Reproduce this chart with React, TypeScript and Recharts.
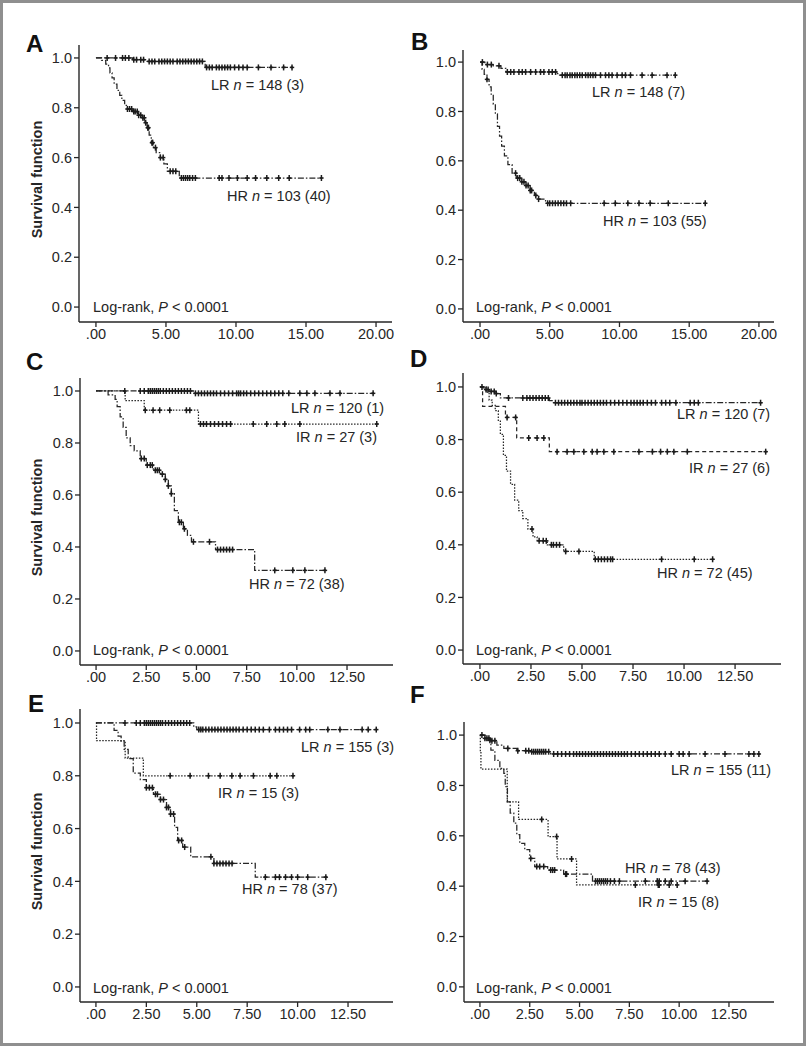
import React from "react";
import { ComposedChart, Line, Scatter, XAxis, YAxis } from "recharts";

// Kaplan-Meier step points [time, survival] and censoring times
const aLrSteps: [number, number][] = [[0, 1], [2.6, 0.993], [3.6, 0.986], [7.8, 0.962], [14.0, 0.962]];
const aLrCensor = [0.8, 1.4, 1.9, 2.1, 2.35, 2.7, 2.9, 3.2, 3.4, 3.8, 4.0, 4.2, 4.5, 4.7, 4.9, 5.1, 5.3, 5.5, 5.8, 6.0, 6.2, 6.4, 6.6, 6.8, 7.0, 7.2, 7.4, 7.6, 7.9, 8.1, 8.3, 8.6, 8.8, 9.0, 9.2, 9.4, 9.6, 9.9, 10.2, 10.5, 10.8, 11.6, 12.5, 13.4, 14.0];
const aHrSteps: [number, number][] = [[0, 1], [0.4, 0.99], [0.7, 0.975], [0.9, 0.96], [1.0, 0.94], [1.15, 0.92], [1.3, 0.895], [1.5, 0.87], [1.7, 0.85], [1.85, 0.83], [2.05, 0.81], [2.25, 0.795], [2.6, 0.785], [3.0, 0.77], [3.3, 0.76], [3.5, 0.74], [3.65, 0.72], [3.8, 0.69], [3.95, 0.66], [4.1, 0.64], [4.3, 0.62], [4.6, 0.6], [4.85, 0.575], [5.1, 0.545], [5.95, 0.518], [16.1, 0.518]];
const aHrCensor = [2.25, 2.4, 2.55, 2.7, 2.8, 2.95, 3.05, 3.2, 3.35, 3.45, 3.55, 3.7, 3.75, 4.0, 4.05, 4.25, 4.6, 4.8, 5.3, 5.5, 5.7, 6.1, 6.25, 6.4, 6.55, 6.7, 6.9, 7.1, 8.8, 9.0, 9.5, 10.1, 10.8, 11.4, 12.2, 13.05, 13.8, 16.1];

const bLrSteps: [number, number][] = [[0, 1], [0.35, 0.99], [0.95, 0.985], [1.5, 0.975], [1.85, 0.96], [5.5, 0.953], [5.65, 0.947], [14.0, 0.947]];
const bLrCensor = [0.17, 0.53, 0.81, 1.36, 1.96, 2.2, 2.43, 2.79, 3.03, 3.27, 3.63, 3.99, 4.34, 4.58, 4.94, 5.18, 5.42, 5.9, 6.1, 6.25, 6.45, 6.61, 6.8, 6.97, 7.15, 7.33, 7.57, 7.75, 7.92, 8.1, 8.28, 8.64, 9.0, 9.24, 9.47, 9.83, 10.19, 10.43, 10.79, 11.62, 12.34, 13.41, 14.0];
const bHrSteps: [number, number][] = [[0, 1], [0.15, 0.97], [0.3, 0.95], [0.5, 0.93], [0.65, 0.9], [0.8, 0.87], [0.95, 0.83], [1.1, 0.79], [1.25, 0.74], [1.4, 0.7], [1.55, 0.66], [1.75, 0.62], [2.0, 0.585], [2.3, 0.55], [2.6, 0.53], [3.0, 0.515], [3.3, 0.5], [3.6, 0.48], [3.9, 0.46], [4.2, 0.445], [4.7, 0.428], [16.15, 0.428]];
const bHrCensor = [0.5, 2.55, 2.7, 2.85, 3.0, 3.15, 3.3, 3.45, 3.6, 3.7, 4.0, 4.2, 4.85, 5.0, 5.2, 5.4, 5.6, 5.8, 6.0, 6.2, 6.5, 8.9, 9.7, 10.6, 11.4, 12.2, 13.5, 16.15];

const cLrSteps: [number, number][] = [[0, 1], [4.85, 0.991], [13.8, 0.991]];
const cLrCensor = [1.43, 2.2, 2.4, 2.6, 2.7, 2.8, 2.9, 3.0, 3.1, 3.2, 3.35, 3.5, 3.65, 3.8, 3.95, 4.1, 4.25, 4.4, 4.55, 4.7, 4.95, 5.1, 5.25, 5.4, 5.55, 5.7, 5.85, 6.0, 6.2, 6.4, 6.6, 6.8, 7.0, 7.1, 7.2, 7.35, 7.5, 7.7, 7.9, 8.1, 8.3, 8.5, 8.7, 8.9, 9.1, 9.3, 9.6, 10.15, 10.5, 10.9, 11.65, 12.15, 13.8];
const cIrSteps: [number, number][] = [[0, 1], [1.45, 0.963], [2.4, 0.926], [5.1, 0.873], [14.0, 0.873]];
const cIrCensor = [2.45, 2.84, 3.17, 3.67, 4.5, 4.67, 5.2, 5.35, 5.5, 5.7, 5.9, 6.1, 6.3, 6.5, 6.7, 7.83, 8.5, 9.0, 9.4, 10.15, 13.98];
const cHrSteps: [number, number][] = [[0, 1], [0.6, 0.985], [0.95, 0.968], [1.05, 0.94], [1.2, 0.9], [1.35, 0.86], [1.5, 0.82], [1.7, 0.79], [1.9, 0.77], [2.2, 0.74], [2.5, 0.715], [2.85, 0.695], [3.2, 0.68], [3.45, 0.66], [3.6, 0.635], [3.75, 0.605], [3.9, 0.54], [4.1, 0.495], [4.35, 0.47], [4.55, 0.445], [4.75, 0.42], [5.95, 0.39], [7.9, 0.31], [11.4, 0.31]];
const cHrCensor = [2.25, 2.4, 2.55, 2.7, 2.8, 2.95, 3.05, 3.15, 3.3, 3.45, 3.6, 3.75, 4.15, 4.25, 4.4, 4.85, 5.65, 6.05, 6.2, 6.35, 6.5, 6.65, 6.8, 8.9, 9.8, 10.4, 11.4];

const dLrSteps: [number, number][] = [[0, 1], [0.2, 0.99], [0.45, 0.983], [0.75, 0.975], [1.0, 0.958], [3.4, 0.948], [3.6, 0.94], [13.75, 0.94]];
const dLrCensor = [0.1, 0.3, 0.4, 0.55, 0.7, 0.8, 1.4, 2.1, 2.3, 2.45, 2.6, 2.75, 2.9, 3.05, 3.2, 3.35, 3.7, 3.85, 4.0, 4.15, 4.3, 4.45, 4.6, 4.75, 4.9, 5.0, 5.15, 5.3, 5.45, 5.6, 5.75, 5.9, 6.05, 6.2, 6.4, 6.6, 6.8, 7.0, 7.2, 7.4, 7.55, 7.7, 7.85, 8.0, 8.2, 8.4, 8.6, 8.9, 9.1, 9.3, 9.6, 10.3, 10.5, 10.7, 13.75];
const dIrSteps: [number, number][] = [[0, 1], [0.13, 0.926], [1.25, 0.884], [1.8, 0.806], [3.4, 0.754], [14.0, 0.754]];
const dIrCensor = [1.33, 1.75, 2.39, 2.8, 3.13, 3.78, 4.27, 4.6, 5.09, 5.5, 5.74, 6.07, 6.56, 7.79, 8.45, 8.85, 9.18, 9.5, 10.16, 14.0];
const dHrSteps: [number, number][] = [[0, 1], [0.3, 0.98], [0.45, 0.95], [0.6, 0.93], [0.75, 0.91], [0.9, 0.87], [1.0, 0.82], [1.15, 0.74], [1.3, 0.68], [1.5, 0.63], [1.7, 0.57], [1.9, 0.53], [2.1, 0.5], [2.35, 0.46], [2.6, 0.43], [2.8, 0.415], [3.3, 0.4], [4.1, 0.375], [5.6, 0.345], [11.4, 0.345]];
const dHrCensor = [2.55, 2.9, 3.1, 3.25, 3.5, 3.6, 3.75, 3.9, 4.2, 4.85, 5.65, 5.8, 5.95, 6.1, 6.25, 6.4, 6.5, 8.9, 10.5, 11.4];

const eLrSteps: [number, number][] = [[0, 1], [4.85, 0.985], [5.0, 0.975], [13.95, 0.975]];
const eLrCensor = [1.44, 2.0, 2.2, 2.4, 2.5, 2.6, 2.7, 2.8, 2.9, 3.0, 3.1, 3.2, 3.3, 3.45, 3.6, 3.75, 3.9, 4.05, 4.2, 4.35, 4.5, 4.65, 5.1, 5.2, 5.3, 5.45, 5.6, 5.75, 5.9, 6.05, 6.2, 6.35, 6.5, 6.65, 6.8, 6.95, 7.1, 7.3, 7.5, 7.7, 7.9, 8.1, 8.3, 8.6, 8.9, 9.1, 9.3, 9.5, 9.7, 10.1, 10.4, 10.6, 11.5, 12.1, 13.2, 13.5, 13.9];
const eIrSteps: [number, number][] = [[0, 1], [0.03, 0.933], [1.45, 0.867], [2.35, 0.8], [9.75, 0.8]];
const eIrCensor = [3.68, 4.67, 5.58, 6.16, 6.74, 7.15, 7.81, 8.64, 8.97, 9.77];
const eHrSteps: [number, number][] = [[0, 1], [0.9, 0.972], [1.1, 0.95], [1.25, 0.93], [1.4, 0.9], [1.6, 0.865], [1.85, 0.81], [2.2, 0.785], [2.5, 0.755], [2.85, 0.73], [3.2, 0.71], [3.5, 0.68], [3.7, 0.655], [3.9, 0.605], [4.05, 0.555], [4.3, 0.53], [4.7, 0.493], [5.85, 0.468], [7.9, 0.416], [11.45, 0.416]];
const eHrCensor = [2.5, 2.65, 2.8, 2.95, 3.05, 3.2, 3.35, 3.5, 3.6, 3.7, 3.85, 4.1, 4.25, 4.4, 5.7, 5.85, 6.0, 6.15, 6.3, 6.45, 6.6, 6.75, 8.4, 8.9, 9.1, 9.4, 9.7, 10.0, 10.5, 11.4];

const fLrSteps: [number, number][] = [[0, 1], [0.25, 0.987], [0.5, 0.978], [0.85, 0.96], [1.2, 0.947], [1.85, 0.938], [2.55, 0.934], [3.55, 0.925], [14.0, 0.925]];
const fLrCensor = [0.1, 0.25, 0.35, 0.45, 0.6, 0.75, 1.4, 1.9, 2.3, 2.45, 2.6, 2.7, 2.8, 2.9, 3.0, 3.1, 3.2, 3.3, 3.45, 3.7, 3.9, 4.1, 4.3, 4.5, 4.7, 4.85, 5.0, 5.15, 5.3, 5.45, 5.6, 5.75, 5.9, 6.05, 6.2, 6.35, 6.5, 6.65, 6.8, 6.95, 7.1, 7.25, 7.4, 7.6, 7.8, 8.0, 8.2, 8.4, 8.6, 8.8, 9.0, 9.3, 9.6, 10.0, 10.2, 10.5, 11.3, 12.3, 13.5, 13.75, 14.0];
const fIrSteps: [number, number][] = [[0, 1], [0.02, 0.933], [0.05, 0.865], [1.37, 0.735], [1.94, 0.665], [3.42, 0.597], [3.87, 0.508], [4.85, 0.405], [9.9, 0.405]];
const fIrCensor = [3.1, 3.85, 4.6, 7.8, 8.95, 9.0, 9.5, 9.9];
const fHrSteps: [number, number][] = [[0, 1], [0.25, 0.98], [0.55, 0.94], [0.75, 0.9], [1.0, 0.868], [1.2, 0.848], [1.27, 0.795], [1.38, 0.735], [1.52, 0.69], [1.7, 0.65], [1.85, 0.605], [2.0, 0.57], [2.25, 0.545], [2.5, 0.51], [2.75, 0.478], [3.4, 0.464], [4.2, 0.448], [5.65, 0.42], [11.4, 0.42]];
const fHrCensor = [0.5, 2.55, 2.85, 3.0, 3.2, 3.55, 3.65, 3.75, 4.3, 4.35, 5.8, 5.9, 6.0, 6.1, 6.2, 6.3, 6.4, 6.55, 6.75, 7.0, 8.3, 8.9, 9.0, 9.3, 9.6, 10.3, 11.4];

const yTicks = [0, 0.2, 0.4, 0.6, 0.8, 1.0];
const xTicksLong = [0, 5, 10, 15, 20];
const xTicksShort = [0, 2.5, 5, 7.5, 10, 12.5];

const FONT = "'Liberation Sans', Arial, Helvetica, sans-serif";
const INK = "#262626";
const DASH_DOT = "6 2 1.5 2";
const DOTTED = "1.5 1.5";
const DASHED = "4 3";
const FS = 14.5;

type Curve = { steps: [number, number][]; censor: number[]; dash: string; label: [string, string]; lx: number; ly: number };
type Panel = {
  letter: string; lx: number; ly: number; showYLabel: boolean;
  x0: number; x1: number; y0: number; y1: number;
  xDomain: [number, number]; yDomain: [number, number]; xTicks: number[];
  curves: Curve[]; rankX: number; rankY: number;
};

const panels: Panel[] = [
  {
    letter: "A", lx: 26, ly: 52, showYLabel: true, x0: 79, x1: 392, y0: 45, y1: 322,
    xDomain: [-1.21, 21.14], yDomain: [-0.06, 1.052], xTicks: xTicksLong, rankX: 93, rankY: 312,
    curves: [
      { steps: aLrSteps, censor: aLrCensor, dash: DASH_DOT, label: ["LR ", " = 148 (3)"], lx: 211, ly: 90 },
      { steps: aHrSteps, censor: aHrCensor, dash: DASH_DOT, label: ["HR ", " = 103 (40)"], lx: 227, ly: 201 },
    ],
  },
  {
    letter: "B", lx: 411, ly: 50, showYLabel: false, x0: 463, x1: 774, y0: 50, y1: 322,
    xDomain: [-1.22, 21.08], yDomain: [-0.053, 1.049], xTicks: xTicksLong, rankX: 476, rankY: 312,
    curves: [
      { steps: bLrSteps, censor: bLrCensor, dash: DASH_DOT, label: ["LR ", " = 148 (7)"], lx: 592, ly: 97 },
      { steps: bHrSteps, censor: bHrCensor, dash: DASH_DOT, label: ["HR ", " = 103 (55)"], lx: 603, ly: 226 },
    ],
  },
  {
    letter: "C", lx: 26, ly: 370, showYLabel: true, x0: 80, x1: 393, y0: 378, y1: 665,
    xDomain: [-0.8, 14.79], yDomain: [-0.054, 1.05], xTicks: xTicksShort, rankX: 93, rankY: 655,
    curves: [
      { steps: cLrSteps, censor: cLrCensor, dash: DASH_DOT, label: ["LR ", " = 120 (1)"], lx: 291, ly: 413 },
      { steps: cIrSteps, censor: cIrCensor, dash: DOTTED, label: ["IR ", " = 27 (3)"], lx: 296, ly: 442 },
      { steps: cHrSteps, censor: cHrCensor, dash: DASH_DOT, label: ["HR ", " = 72 (38)"], lx: 249, ly: 589 },
    ],
  },
  {
    letter: "D", lx: 410, ly: 367, showYLabel: false, x0: 463, x1: 781, y0: 373, y1: 664,
    xDomain: [-0.83, 14.75], yDomain: [-0.053, 1.053], xTicks: xTicksShort, rankX: 476, rankY: 655,
    curves: [
      { steps: dLrSteps, censor: dLrCensor, dash: DASH_DOT, label: ["LR ", " = 120 (7)"], lx: 677, ly: 419 },
      { steps: dIrSteps, censor: dIrCensor, dash: DASHED, label: ["IR ", " = 27 (6)"], lx: 689, ly: 473 },
      { steps: dHrSteps, censor: dHrCensor, dash: DOTTED, label: ["HR ", " = 72 (45)"], lx: 657, ly: 578 },
    ],
  },
  {
    letter: "E", lx: 28, ly: 712, showYLabel: true, x0: 80, x1: 393, y0: 709, y1: 1002,
    xDomain: [-0.79, 14.73], yDomain: [-0.057, 1.053], xTicks: xTicksShort, rankX: 93, rankY: 993,
    curves: [
      { steps: eLrSteps, censor: eLrCensor, dash: DASH_DOT, label: ["LR ", " = 155 (3)"], lx: 301, ly: 752 },
      { steps: eIrSteps, censor: eIrCensor, dash: DOTTED, label: ["IR ", " = 15 (3)"], lx: 218, ly: 798 },
      { steps: eHrSteps, censor: eHrCensor, dash: DASH_DOT, label: ["HR ", " = 78 (37)"], lx: 242, ly: 894 },
    ],
  },
  {
    letter: "F", lx: 410, ly: 703, showYLabel: false, x0: 464, x1: 774, y0: 722, y1: 1002,
    xDomain: [-0.8, 14.76], yDomain: [-0.06, 1.052], xTicks: xTicksShort, rankX: 476, rankY: 993,
    curves: [
      { steps: fLrSteps, censor: fLrCensor, dash: DASH_DOT, label: ["LR ", " = 155 (11)"], lx: 671, ly: 775 },
      { steps: fIrSteps, censor: fIrCensor, dash: DOTTED, label: ["IR ", " = 15 (8)"], lx: 638, ly: 907 },
      { steps: fHrSteps, censor: fHrCensor, dash: DASH_DOT, label: ["HR ", " = 78 (43)"], lx: 625, ly: 873 },
    ],
  },
];

const YW = 60;
const MT = 10;
const MR = 10;
const XH = 30;

function survivalAt(steps: [number, number][], t: number) {
  let s = steps[0][1];
  for (const [st, sv] of steps) if (st <= t) s = sv;
  return s;
}

const fmtX = (v: number) => (v === 0 ? ".00" : v.toFixed(2));
const fmtY = (v: number) => v.toFixed(1);

function CensorMark(props: any) {
  const { cx, cy } = props;
  if (cx == null || cy == null) return null;
  return (
    <g stroke="#1c1c1c" strokeWidth={1.5} fill="#1c1c1c">
      <line x1={cx} y1={cy - 3} x2={cx} y2={cy + 3} />
      <line x1={cx - 2.2} y1={cy} x2={cx + 2.2} y2={cy} />
      <circle cx={cx} cy={cy} r={1.1} stroke="none" />
    </g>
  );
}

function KmPanel({ p }: { p: Panel }) {
  const w = YW + (p.x1 - p.x0) + MR;
  const h = MT + (p.y1 - p.y0) + XH;
  return (
    <div style={{ position: "absolute", left: p.x0 - YW, top: p.y0 - MT, width: w, height: h }}>
      <ComposedChart width={w} height={h} margin={{ top: MT, right: MR, bottom: 0, left: 0 }}>
        <XAxis
          type="number"
          dataKey="x"
          domain={p.xDomain}
          allowDataOverflow
          ticks={p.xTicks}
          tickFormatter={fmtX}
          height={XH}
          tickSize={5}
          axisLine={{ stroke: INK, strokeWidth: 1.4 }}
          tickLine={{ stroke: INK, strokeWidth: 1.3 }}
          tick={{ fill: INK, fontSize: FS, fontFamily: FONT }}
        />
        <YAxis
          type="number"
          dataKey="y"
          domain={p.yDomain}
          allowDataOverflow
          ticks={yTicks}
          tickFormatter={fmtY}
          width={YW}
          tickSize={5}
          axisLine={{ stroke: INK, strokeWidth: 1.4 }}
          tickLine={{ stroke: INK, strokeWidth: 1.3 }}
          tick={{ fill: INK, fontSize: FS, fontFamily: FONT }}
        />
        {p.curves.map((c, i) => (
          <Line
            key={"l" + i}
            data={c.steps.map(([x, y]) => ({ x, y }))}
            dataKey="y"
            type="stepAfter"
            stroke={INK}
            strokeWidth={1.25}
            strokeDasharray={c.dash}
            dot={false}
            activeDot={false}
            isAnimationActive={false}
          />
        ))}
        {p.curves.map((c, i) => (
          <Scatter
            key={"s" + i}
            data={c.censor.map((t) => ({ x: t, y: survivalAt(c.steps, t) }))}
            dataKey="y"
            shape={<CensorMark />}
            isAnimationActive={false}
          />
        ))}
      </ComposedChart>
    </div>
  );
}

export default function App() {
  return (
    <div style={{ position: "absolute", left: 0, top: 0, width: 808, height: 1050, background: "#fff", fontFamily: FONT }}>
      {panels.map((p) => (
        <KmPanel key={p.letter} p={p} />
      ))}
      <svg width={808} height={1050} style={{ position: "absolute", left: 0, top: 0, pointerEvents: "none" }}>
        <rect x={1.5} y={1.5} width={803} height={1043} fill="none" stroke="#8f8f8f" strokeWidth={3} />
        {panels.map((p) => (
          <g key={p.letter} fontFamily={FONT} fill={INK}>
            <text x={p.lx} y={p.ly} fontSize={24} fontWeight="bold" fill="#111">{p.letter}</text>
            {p.showYLabel && (
              <text
                x={0}
                y={0}
                transform={`translate(42, ${(p.y0 + p.y1) / 2 - 4}) rotate(-90)`}
                textAnchor="middle"
                fontSize={FS}
                fontWeight="bold"
              >
                Survival function
              </text>
            )}
            <text x={p.rankX} y={p.rankY} fontSize={FS}>
              Log-rank, <tspan fontStyle="italic">P</tspan> &lt; 0.0001
            </text>
            {p.curves.map((c, i) => (
              <text key={i} x={c.lx} y={c.ly} fontSize={FS}>
                {c.label[0]}
                <tspan fontStyle="italic">n</tspan>
                {c.label[1]}
              </text>
            ))}
          </g>
        ))}
      </svg>
    </div>
  );
}
